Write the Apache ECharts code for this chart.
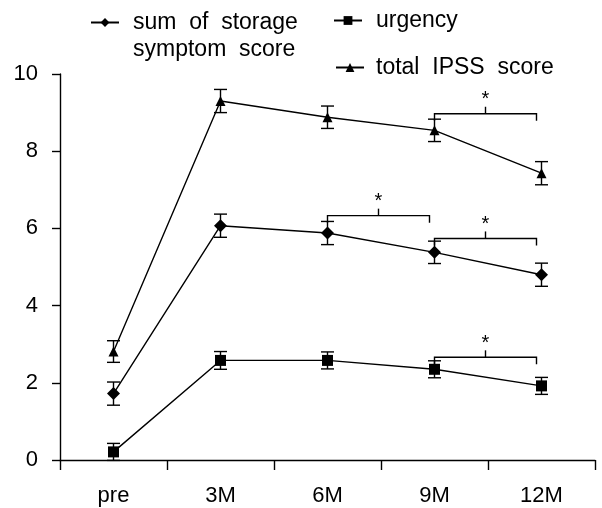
<!DOCTYPE html>
<html>
<head>
<meta charset="utf-8">
<script src="https://cdn.jsdelivr.net/npm/echarts@6/dist/echarts.min.js"></script>
<style>
  html, body { margin: 0; padding: 0; background: #fff; }
  #chart { width: 602px; height: 508px; }
</style>
</head>
<body>
<div id="chart"></div>
<script>
const categories = ['pre', '3M', '6M', '9M', '12M'];

const storageMean = [1.72, 6.07, 5.88, 5.38, 4.80];
const storageErr = [0.3, 0.3, 0.3, 0.29, 0.3];
const urgencyMean = [0.21, 2.58, 2.58, 2.35, 1.92];
const urgencyErr = [0.22, 0.23, 0.22, 0.22, 0.22];
const ipssMean = [2.81, 9.30, 8.88, 8.54, 7.43];
const ipssErr = [0.28, 0.3, 0.29, 0.29, 0.3];

// significance brackets: [from index, to index, level]
const brackets = [
  [3, 4, 8.97],
  [2, 3, 6.33],
  [3, 4, 5.74],
  [3, 4, 2.66]
];

const yTicks = [0, 2, 4, 6, 8, 10];

const FONT = 'Liberation Sans, Arial, sans-serif';
const INK = '#000';

const chart = echarts.init(document.getElementById('chart'));

function errorData(mean, err) {
  return mean.map((m, i) => [i, m, err[i]]);
}

function renderError(params, api) {
  const x = api.value(0);
  const m = api.value(1);
  const e = api.value(2);
  const top = api.coord([x, m + e]);
  const bot = api.coord([x, m - e]);
  const hw = 6.5;
  const style = { stroke: INK, lineWidth: 1.4 };
  return {
    type: 'group',
    children: [
      { type: 'line', shape: { x1: top[0], y1: top[1], x2: bot[0], y2: bot[1] }, style },
      { type: 'line', shape: { x1: top[0] - hw, y1: top[1], x2: top[0] + hw, y2: top[1] }, style },
      { type: 'line', shape: { x1: bot[0] - hw, y1: bot[1], x2: bot[0] + hw, y2: bot[1] }, style }
    ]
  };
}

function renderBracket(params, api) {
  const a = api.coord([api.value(0), api.value(2)]);
  const b = api.coord([api.value(1), api.value(2)]);
  const x1 = a[0];
  const x2 = b[0] - 5;
  const y = a[1];
  const mid = (x1 + x2) / 2;
  const style = { stroke: INK, lineWidth: 1.4, fill: null };
  return {
    type: 'group',
    children: [
      { type: 'polyline', shape: { points: [[x1, y + 7], [x1, y], [x2, y], [x2, y + 7]] }, style },
      { type: 'line', shape: { x1: mid, y1: y, x2: mid, y2: y - 7 }, style },
      {
        type: 'text',
        style: { text: '*', x: mid, y: y - 14, fill: INK, font: '20px ' + FONT, align: 'center', verticalAlign: 'middle' }
      }
    ]
  };
}

function lineSeries(name, data, symbol, size) {
  return {
    name,
    type: 'line',
    data,
    symbol,
    symbolSize: size,
    z: 5,
    itemStyle: { color: INK },
    lineStyle: { color: INK, width: 1.4 },
    emphasis: { disabled: true }
  };
}

function legendAt(left, top, name, gap) {
  return {
    left, top,
    orient: 'horizontal',
    padding: 0,
    itemWidth: 28,
    itemHeight: 11,
    selectedMode: false,
    data: [name],
    textStyle: { fontFamily: FONT, fontSize: 23, color: INK, padding: [0, 0, 0, gap] }
  };
}

const option = {
  animation: false,
  backgroundColor: '#fff',
  textStyle: { fontFamily: FONT },
  grid: { left: 60, right: 7, top: 74, bottom: 48 },
  legend: [
    Object.assign(legendAt(90, 11, 'sum of storage symptom score', 9), {
      formatter: () => 'sum  of  storage'
    }),
    legendAt(333, 9, 'urgency', 9),
    legendAt(335, 56, 'total  IPSS  score', 7)
  ],
  graphic: [
    {
      type: 'text',
      left: 133, top: 38,
      style: { text: 'symptom  score', font: '23px ' + FONT, fill: INK }
    }
  ],
  xAxis: {
    type: 'category',
    data: categories,
    boundaryGap: true,
    axisLine: { lineStyle: { color: INK, width: 1.4 } },
    axisTick: { show: true, length: 10, interval: 0, lineStyle: { color: INK, width: 1.4 } },
    axisLabel: { color: INK, fontSize: 22, margin: 25, fontFamily: FONT }
  },
  yAxis: {
    type: 'value',
    min: yTicks[0],
    max: yTicks[yTicks.length - 1],
    interval: 2,
    axisLine: { show: true, lineStyle: { color: INK, width: 1.4 } },
    axisTick: { show: true, length: 8, lineStyle: { color: INK, width: 1.4 } },
    axisLabel: { color: INK, fontSize: 22, margin: 22, fontFamily: FONT },
    splitLine: { show: false }
  },
  series: [
    lineSeries('sum of storage symptom score', storageMean, 'diamond', 13),
    lineSeries('urgency', urgencyMean, 'rect', 11),
    lineSeries('total  IPSS  score', ipssMean, 'triangle', 10),
    { type: 'custom', renderItem: renderError, data: errorData(storageMean, storageErr), z: 4, silent: true },
    { type: 'custom', renderItem: renderError, data: errorData(urgencyMean, urgencyErr), z: 4, silent: true },
    { type: 'custom', renderItem: renderError, data: errorData(ipssMean, ipssErr), z: 4, silent: true },
    { type: 'custom', renderItem: renderBracket, data: brackets, z: 4, silent: true }
  ]
};

chart.setOption(option);
</script>
</body>
</html>
